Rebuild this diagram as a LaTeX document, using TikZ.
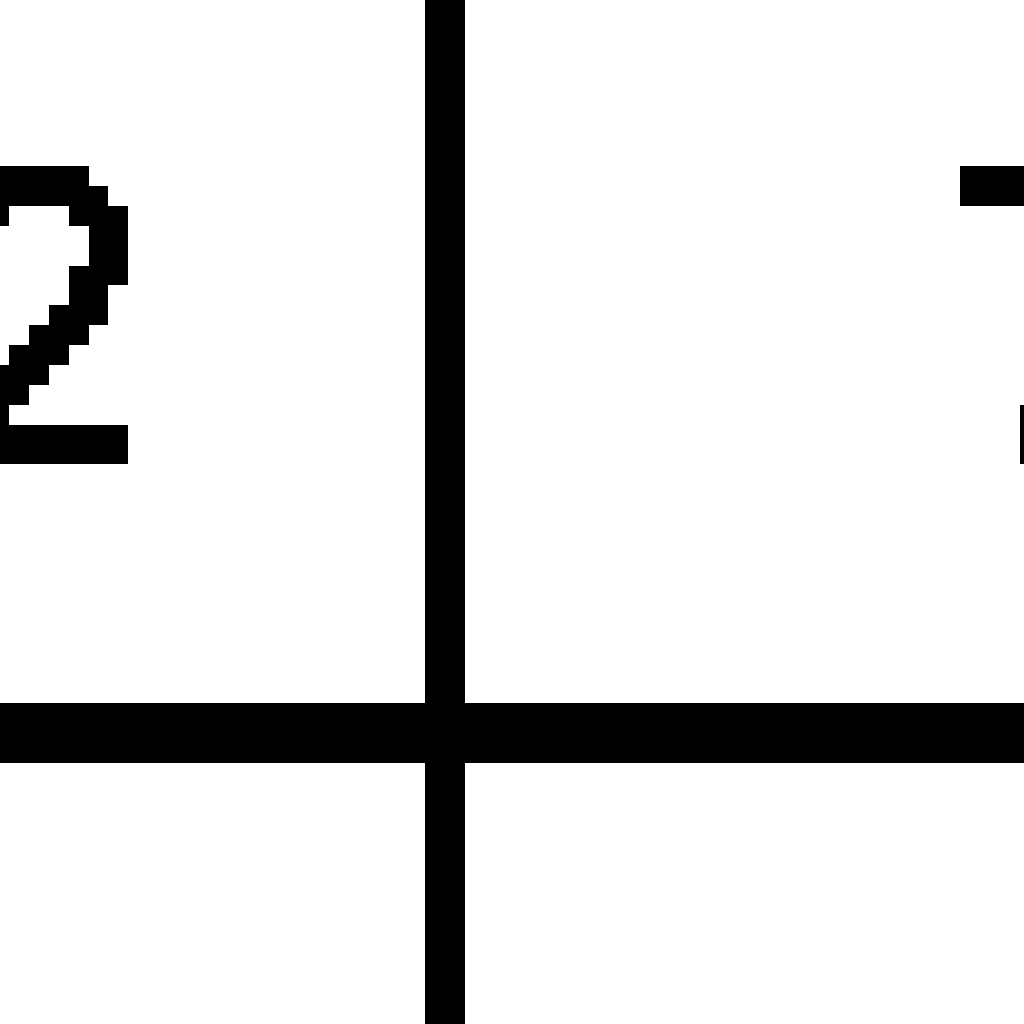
\documentclass[tikz,border=0pt]{standalone}
\begin{document}
\begin{tikzpicture}[x=1pt,y=-1pt,px/.style={fill=black}]
\useasboundingbox (0,0) rectangle (1024,1024);
\fill[white] (0,0) rectangle (1024,1024);
% grid lines
\fill[px] (425,0) rectangle (465,1024);
\fill[px] (0,703) rectangle (1024,763);
% pixel glyph "2"
\fill[px] (0,166) rectangle (89,186);
\fill[px] (0,186) rectangle (108,206);
\fill[px] (0,206) rectangle (9,226);
\fill[px] (69,206) rectangle (128,226);
\fill[px] (89,226) rectangle (128,266);
\fill[px] (69,266) rectangle (128,285);
\fill[px] (69,285) rectangle (108,305);
\fill[px] (49,305) rectangle (108,325);
\fill[px] (29,325) rectangle (89,345);
\fill[px] (9,345) rectangle (69,365);
\fill[px] (0,365) rectangle (49,385);
\fill[px] (0,385) rectangle (29,405);
\fill[px] (0,405) rectangle (9,425);
\fill[px] (0,425) rectangle (128,464);
% partial glyph at right edge
\fill[px] (960,166) rectangle (1024,206);
\fill[px] (1020,405) rectangle (1024,464);
\end{tikzpicture}
\end{document}
